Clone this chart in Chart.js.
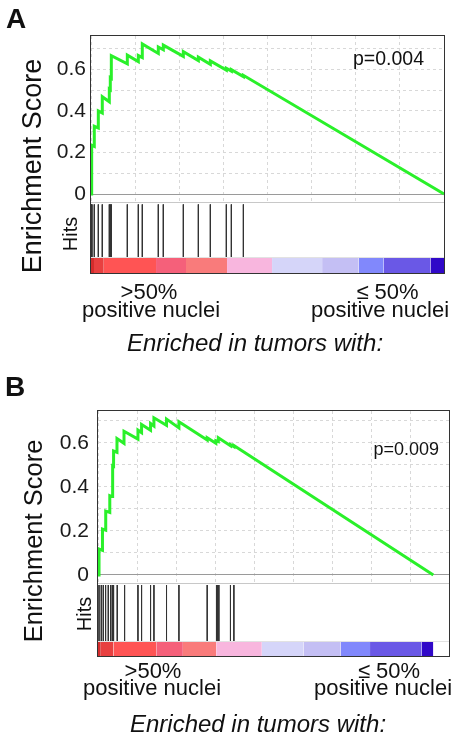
<!DOCTYPE html>
<html>
<head>
<meta charset="utf-8">
<script src="https://cdn.jsdelivr.net/npm/chart.js@4.4.0/dist/chart.umd.min.js"></script>
<style>
  body { margin: 0; background: #fff; width: 457px; height: 737px; position: relative; overflow: hidden;
         font-family: 'Liberation Sans', Arial, sans-serif; color: #111; }
  canvas { position: absolute; }
  .t { position: absolute; white-space: nowrap; line-height: 1; }
  .frame { position: absolute; border: 1px solid #333; box-sizing: border-box; z-index: 5; }
  .rule { position: absolute; height: 1px; z-index: 4; }
</style>
</head>
<body>
<canvas id="esA" width="444" height="207" style="left:0;top:16px"></canvas>
<canvas id="hitsA" width="353" height="70" style="left:91px;top:203px"></canvas>
<canvas id="esB" width="449" height="213" style="left:0;top:391px"></canvas>
<canvas id="hitsB" width="351" height="72" style="left:98px;top:584px"></canvas>

<div class="frame" style="left:90px;top:35px;width:355px;height:239px"></div>
<div class="rule" style="left:91px;top:202px;width:353px;background:#c8c8c8"></div>
<div class="rule" style="left:91px;top:257px;width:353px;background:#e2e2e2"></div>

<div class="frame" style="left:97px;top:410px;width:353px;height:247px"></div>
<div class="rule" style="left:98px;top:583px;width:351px;background:#c8c8c8"></div>
<div class="rule" style="left:98px;top:641px;width:351px;background:#e2e2e2"></div>

<script>
// ─── Data ────────────────────────────────────────────────────────
const geneCount = 8250;           // length of the ranked list
const gridStep  = 1000;           // rank between vertical grid lines

// Panel A — running enrichment score (rank, score)
const esRankA  = [0, 8, 8, 23, 23, 77, 77, 171, 171, 264, 264, 428, 428, 451, 451, 475, 475,
                  849, 849, 1106, 1106, 1199, 1199, 1573, 1573, 1690, 1690, 2158, 2158, 2509, 2509,
                  2789, 2789, 3163, 3163, 3280, 3280, 3561, 3561, 8250];
const esScoreA = [0, 0, 0.125, 0.123, 0.235, 0.229, 0.326, 0.318, 0.400, 0.390, 0.468, 0.444, 0.505,
                  0.502, 0.560, 0.557, 0.665, 0.626, 0.668, 0.637, 0.666, 0.656, 0.722, 0.676, 0.707,
                  0.694, 0.716, 0.662, 0.685, 0.642, 0.658, 0.624, 0.640, 0.596, 0.605, 0.591, 0.598,
                  0.565, 0.571, 0];
const hitsA    = [8, 23, 77, 171, 264, 428, 451, 475, 849, 1106, 1199, 1573, 1690, 2158, 2509,
                  2789, 3163, 3280, 3561];
const barEdgesA = [0, 70, 300, 1520, 2220, 3180, 4232, 5401, 6257, 6841, 7933, 8250];

// Panel B
const esRankB  = [0, 25, 25, 110, 110, 190, 190, 290, 290, 351, 351, 365, 365, 383, 383, 467, 467,
                  640, 640, 983, 983, 1072, 1072, 1293, 1293, 1376, 1376, 1686, 1686, 1991, 1991,
                  2687, 2687, 2900, 2900, 2960, 2960, 3259, 3259, 3343, 3343, 8250];
const esScoreB = [0, 0, 0.118, 0.112, 0.209, 0.204, 0.290, 0.284, 0.360, 0.356, 0.423, 0.421, 0.496,
                  0.494, 0.563, 0.557, 0.620, 0.598, 0.653, 0.617, 0.658, 0.647, 0.684, 0.658, 0.688,
                  0.677, 0.714, 0.680, 0.708, 0.668, 0.696, 0.613, 0.623, 0.598, 0.610, 0.606, 0.623,
                  0.587, 0.592, 0.583, 0.588, 0];
const hitsB    = [25, 81, 130, 187, 253, 310, 351, 365, 383, 474, 654, 983, 1072, 1293, 1376, 1686,
                  1991, 2687, 2915, 2945, 2974, 3259, 3343];
const barEdgesB = [0, 70, 383, 1433, 2089, 2908, 4031, 5054, 5973, 6693, 7964, 8250];

// ranked-metric colour bar, red (positive) to blue (negative)
const barColors = ['#d42c2c', '#e84040', '#ff5454', '#f5607a', '#f97b7b', '#f8b6de',
                   '#d5d5f9', '#c4bff4', '#8188fc', '#6a58e6', '#3008c8'];

// ─── Styling ─────────────────────────────────────────────────────
const FONT   = "'Liberation Sans', Arial, sans-serif";
const GREEN  = '#2af02a';
const GRID   = '#d8d8d8';

// ─── Enrichment score plot ───────────────────────────────────────
function esChart(id, ranks, scores, xMax, yMin, yMax, axisWidth, labelPad) {
  new Chart(document.getElementById(id), {
    type: 'line',
    data: {
      datasets: [{
        data: ranks.map((x, i) => ({ x, y: scores[i] })),
        borderColor: GREEN, borderWidth: 3, pointRadius: 0, tension: 0, fill: false
      }]
    },
    options: {
      responsive: false, animation: false,
      layout: { padding: { top: 20, bottom: 20, left: 0, right: 0 }, autoPadding: false },
      plugins: { legend: { display: false }, tooltip: { enabled: false } },
      scales: {
        x: {
          type: 'linear', min: 0, max: xMax,
          ticks: { display: false, stepSize: gridStep, includeBounds: false },
          grid: { color: GRID, drawTicks: false },
          border: { display: false, dash: [3, 3] },
          afterFit: s => { s.height = 0; }
        },
        y: {
          min: yMin, max: yMax,
          ticks: {
            stepSize: 0.1, includeBounds: false, autoSkip: false, padding: labelPad,
            color: '#1a1a1a', font: { family: FONT, size: 21 },
            callback: v => {
              const k = Math.round(v * 10);
              if (k === 0) return '0';
              return k % 2 === 0 ? (k / 10).toFixed(1) : '';
            }
          },
          grid: { color: c => (c.tick && Math.abs(c.tick.value) < 1e-9) ? '#9a9a9a' : GRID, drawTicks: false },
          border: { display: false, dash: c => (c.tick && Math.abs(c.tick.value) < 1e-9) ? [] : [3, 3] },
          afterFit: s => { s.width = axisWidth; s.paddingTop = 0; s.paddingBottom = 0; }
        }
      }
    }
  });
}

// ─── Hits + ranked list colour bar ───────────────────────────────
function hitsChart(id, hits, edges, xMax, hitTop, barTop) {
  const sets = [];
  for (let i = 0; i < edges.length - 1; i++) {
    sets.push({
      data: [{ x: edges[i], y: barTop }, { x: edges[i + 1], y: barTop }],
      fill: 'origin', backgroundColor: barColors[i], borderWidth: 0, pointRadius: 0
    });
  }
  sets.push({
    data: hits.flatMap(h => [{ x: h, y: hitTop }, { x: h, y: barTop }, { x: h, y: null }]),
    borderColor: '#333', borderWidth: 1, pointRadius: 0, fill: false, spanGaps: false
  });
  new Chart(document.getElementById(id), {
    type: 'line',
    data: { datasets: sets },
    options: {
      responsive: false, animation: false,
      layout: { padding: 0, autoPadding: false },
      plugins: { legend: { display: false }, tooltip: { enabled: false } },
      scales: {
        x: { type: 'linear', min: 0, max: xMax, display: false },
        y: { min: 0, max: 1, display: false }
      }
    }
  });
}

esChart('esA', esRankA, esScoreA, geneCount, -0.043, 0.76, 91, 5);
hitsChart('hitsA', hitsA, barEdgesA, geneCount, 0.98, 0.219);

esChart('esB', esRankB, esScoreB, 8636, -0.041, 0.745, 98, 9);
hitsChart('hitsB', hitsB, barEdgesB, 8636, 0.986, 0.2);

// ─── Labels ──────────────────────────────────────────────────────
function label(text, x, base, size, opt = {}) {
  const d = document.createElement('div');
  d.className = 't';
  d.textContent = text;
  d.style.fontSize = size + 'px';
  if (opt.bold) d.style.fontWeight = 'bold';
  if (opt.italic) d.style.fontStyle = 'italic';
  d.style.left = x + 'px';
  if (opt.rotate) {
    d.style.top = base + 'px';            // centre along the text
    d.style.transformOrigin = '0 0';
    d.style.transform = 'rotate(-90deg) translate(-50%, -0.8465em)';
  } else {
    d.style.top = (base - 0.8465 * size) + 'px';
    if (opt.center) d.style.transform = 'translateX(-50%)';
  }
  document.body.appendChild(d);
}

// panel A
label('A', 6, 28.3, 28, { bold: true });
label('Enrichment Score', 42, 165.5, 27, { rotate: true });
label('Hits', 77, 234, 20, { rotate: true });
label('p=0.004', 353, 65.5, 19.5);
label('>50%', 149, 299.5, 22, { center: true });
label('positive nuclei', 151, 317.5, 22, { center: true });
label('\u2264 50%', 387.5, 299.5, 22, { center: true });
label('positive nuclei', 380, 317.5, 22, { center: true });
label('Enriched in tumors with:', 255, 351.5, 24, { italic: true, center: true });

// panel B
label('B', 5, 397, 28, { bold: true });
label('Enrichment Score', 43, 541, 25.5, { rotate: true });
label('Hits', 90.5, 614, 20, { rotate: true });
label('p=0.009', 373.5, 455, 18);
label('>50%', 153, 679, 22, { center: true });
label('positive nuclei', 152, 696, 22, { center: true });
label('\u2264 50%', 389, 679, 22, { center: true });
label('positive nuclei', 383, 696, 22, { center: true });
label('Enriched in tumors with:', 258, 732, 24, { italic: true, center: true });
</script>
</body>
</html>
